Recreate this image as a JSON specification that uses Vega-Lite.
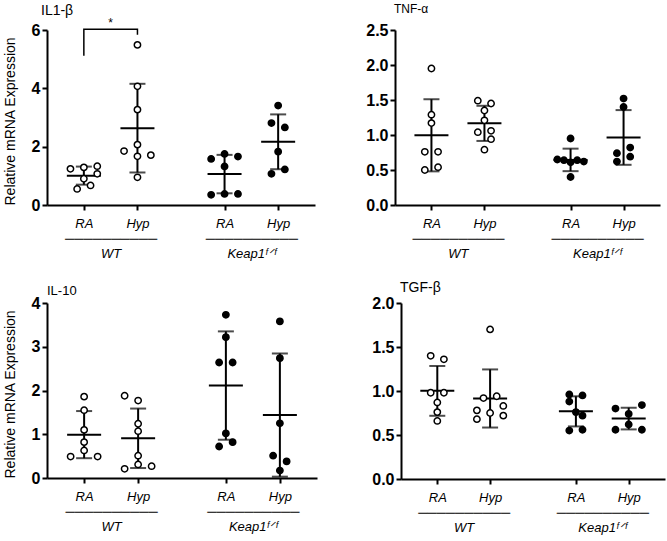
{
 "$schema": "https://vega.github.io/schema/vega-lite/v6.json",
 "padding": {"left": 3, "top": 3, "right": 2, "bottom": 2},
 "config": {
  "view": {"stroke": null},
  "font": "Liberation Sans",
  "axis": {"domainColor": "black", "domainWidth": 2, "tickColor": "black", "tickWidth": 2, "tickSize": 5, "labelColor": "black", "titleColor": "black", "grid": false, "labelFont": "Liberation Sans", "titleFont": "Liberation Sans"},
  "axisQuantitative": {"labelOverlap": false},
  "axisY": {"labelFontSize": 16, "labelFontWeight": "bold", "labelPadding": 2, "labelOverlap": false, "labelSeparation": -20, "titleFontSize": 14, "titleFontWeight": "normal", "titleAnchor": "start", "titlePadding": 14},
  "axisX": {"labelFontSize": 13, "labelFontStyle": "italic", "labelAngle": 0, "labelPadding": 7, "labelLineHeight": 15, "labelOverlap": false},
  "title": {"fontSize": 12, "fontWeight": "normal", "anchor": "start", "color": "black", "font": "Liberation Sans", "frame": "group"}
 },
 "datasets": {
  "il1": [
   {"geno":"WT","lane":"WT-RA-1","col":"WT-RA-3","v":1.24},
   {"geno":"WT","lane":"WT-RA-3","col":"WT-RA-3","v":1.29},
   {"geno":"WT","lane":"WT-RA-5","col":"WT-RA-3","v":1.33},
   {"geno":"WT","lane":"WT-RA-5","col":"WT-RA-3","v":1.07},
   {"geno":"WT","lane":"WT-RA-3","col":"WT-RA-3","v":0.90},
   {"geno":"WT","lane":"WT-RA-2","col":"WT-RA-3","v":0.55},
   {"geno":"WT","lane":"WT-RA-4","col":"WT-RA-3","v":0.67},
   {"geno":"WT","lane":"WT-Hyp-3","col":"WT-Hyp-3","v":5.49},
   {"geno":"WT","lane":"WT-Hyp-3","col":"WT-Hyp-3","v":4.07},
   {"geno":"WT","lane":"WT-Hyp-3","col":"WT-Hyp-3","v":3.27},
   {"geno":"WT","lane":"WT-Hyp-3","col":"WT-Hyp-3","v":2.07},
   {"geno":"WT","lane":"WT-Hyp-1","col":"WT-Hyp-3","v":1.85},
   {"geno":"WT","lane":"WT-Hyp-3","col":"WT-Hyp-3","v":1.67},
   {"geno":"WT","lane":"WT-Hyp-5","col":"WT-Hyp-3","v":1.71},
   {"geno":"WT","lane":"WT-Hyp-3","col":"WT-Hyp-3","v":0.95},
   {"geno":"Keap1","lane":"K-RA-1","col":"K-RA-3","v":1.58},
   {"geno":"Keap1","lane":"K-RA-3","col":"K-RA-3","v":1.75},
   {"geno":"Keap1","lane":"K-RA-5","col":"K-RA-3","v":1.66},
   {"geno":"Keap1","lane":"K-RA-3","col":"K-RA-3","v":1.32},
   {"geno":"Keap1","lane":"K-RA-1","col":"K-RA-3","v":0.35},
   {"geno":"Keap1","lane":"K-RA-3","col":"K-RA-3","v":0.38},
   {"geno":"Keap1","lane":"K-RA-5","col":"K-RA-3","v":0.38},
   {"geno":"Keap1","lane":"K-Hyp-3","col":"K-Hyp-3","v":3.41},
   {"geno":"Keap1","lane":"K-Hyp-2","col":"K-Hyp-3","v":2.81},
   {"geno":"Keap1","lane":"K-Hyp-4","col":"K-Hyp-3","v":2.66},
   {"geno":"Keap1","lane":"K-Hyp-3","col":"K-Hyp-3","v":1.83},
   {"geno":"Keap1","lane":"K-Hyp-4","col":"K-Hyp-3","v":1.22},
   {"geno":"Keap1","lane":"K-Hyp-2","col":"K-Hyp-3","v":1.07}
  ],
  "tnf": [
   {"geno":"WT","lane":"WT-RA-3","col":"WT-RA-3","v":1.95},
   {"geno":"WT","lane":"WT-RA-3","col":"WT-RA-3","v":1.29},
   {"geno":"WT","lane":"WT-RA-3","col":"WT-RA-3","v":1.17},
   {"geno":"WT","lane":"WT-RA-2","col":"WT-RA-3","v":0.76},
   {"geno":"WT","lane":"WT-RA-4","col":"WT-RA-3","v":0.76},
   {"geno":"WT","lane":"WT-RA-2","col":"WT-RA-3","v":0.50},
   {"geno":"WT","lane":"WT-RA-4","col":"WT-RA-3","v":0.54},
   {"geno":"WT","lane":"WT-Hyp-2","col":"WT-Hyp-3","v":1.49},
   {"geno":"WT","lane":"WT-Hyp-4","col":"WT-Hyp-3","v":1.45},
   {"geno":"WT","lane":"WT-Hyp-3","col":"WT-Hyp-3","v":1.35},
   {"geno":"WT","lane":"WT-Hyp-3","col":"WT-Hyp-3","v":1.21},
   {"geno":"WT","lane":"WT-Hyp-2","col":"WT-Hyp-3","v":1.04},
   {"geno":"WT","lane":"WT-Hyp-4","col":"WT-Hyp-3","v":1.06},
   {"geno":"WT","lane":"WT-Hyp-4","col":"WT-Hyp-3","v":0.94},
   {"geno":"WT","lane":"WT-Hyp-3","col":"WT-Hyp-3","v":0.79},
   {"geno":"Keap1","lane":"K-RA-3","col":"K-RA-3","v":0.95},
   {"geno":"Keap1","lane":"K-RA-1","col":"K-RA-3","v":0.65},
   {"geno":"Keap1","lane":"K-RA-2","col":"K-RA-3","v":0.64},
   {"geno":"Keap1","lane":"K-RA-3","col":"K-RA-3","v":0.61},
   {"geno":"Keap1","lane":"K-RA-4","col":"K-RA-3","v":0.64},
   {"geno":"Keap1","lane":"K-RA-5","col":"K-RA-3","v":0.62},
   {"geno":"Keap1","lane":"K-RA-3","col":"K-RA-3","v":0.40},
   {"geno":"Keap1","lane":"K-Hyp-3","col":"K-Hyp-3","v":1.52},
   {"geno":"Keap1","lane":"K-Hyp-3","col":"K-Hyp-3","v":1.40},
   {"geno":"Keap1","lane":"K-Hyp-4","col":"K-Hyp-3","v":0.82},
   {"geno":"Keap1","lane":"K-Hyp-2","col":"K-Hyp-3","v":0.74},
   {"geno":"Keap1","lane":"K-Hyp-4","col":"K-Hyp-3","v":0.69},
   {"geno":"Keap1","lane":"K-Hyp-2","col":"K-Hyp-3","v":0.62}
  ],
  "il10": [
   {"geno":"WT","lane":"WT-RA-3","col":"WT-RA-3","v":1.86},
   {"geno":"WT","lane":"WT-RA-3","col":"WT-RA-3","v":1.55},
   {"geno":"WT","lane":"WT-RA-3","col":"WT-RA-3","v":1.10},
   {"geno":"WT","lane":"WT-RA-3","col":"WT-RA-3","v":0.82},
   {"geno":"WT","lane":"WT-RA-3","col":"WT-RA-3","v":0.63},
   {"geno":"WT","lane":"WT-RA-1","col":"WT-RA-3","v":0.49},
   {"geno":"WT","lane":"WT-RA-5","col":"WT-RA-3","v":0.49},
   {"geno":"WT","lane":"WT-Hyp-1","col":"WT-Hyp-3","v":1.88},
   {"geno":"WT","lane":"WT-Hyp-3","col":"WT-Hyp-3","v":1.77},
   {"geno":"WT","lane":"WT-Hyp-3","col":"WT-Hyp-3","v":1.24},
   {"geno":"WT","lane":"WT-Hyp-3","col":"WT-Hyp-3","v":1.07},
   {"geno":"WT","lane":"WT-Hyp-3","col":"WT-Hyp-3","v":0.51},
   {"geno":"WT","lane":"WT-Hyp-3","col":"WT-Hyp-3","v":0.31},
   {"geno":"WT","lane":"WT-Hyp-1","col":"WT-Hyp-3","v":0.21},
   {"geno":"WT","lane":"WT-Hyp-5","col":"WT-Hyp-3","v":0.27},
   {"geno":"Keap1","lane":"K-RA-3","col":"K-RA-3","v":3.73},
   {"geno":"Keap1","lane":"K-RA-3","col":"K-RA-3","v":3.22},
   {"geno":"Keap1","lane":"K-RA-2","col":"K-RA-3","v":2.64},
   {"geno":"Keap1","lane":"K-RA-4","col":"K-RA-3","v":2.64},
   {"geno":"Keap1","lane":"K-RA-3","col":"K-RA-3","v":1.02},
   {"geno":"Keap1","lane":"K-RA-2","col":"K-RA-3","v":0.72},
   {"geno":"Keap1","lane":"K-RA-4","col":"K-RA-3","v":0.82},
   {"geno":"Keap1","lane":"K-Hyp-3","col":"K-Hyp-3","v":3.58},
   {"geno":"Keap1","lane":"K-Hyp-3","col":"K-Hyp-3","v":2.74},
   {"geno":"Keap1","lane":"K-Hyp-3","col":"K-Hyp-3","v":1.25},
   {"geno":"Keap1","lane":"K-Hyp-2","col":"K-Hyp-3","v":0.51},
   {"geno":"Keap1","lane":"K-Hyp-4","col":"K-Hyp-3","v":0.38},
   {"geno":"Keap1","lane":"K-Hyp-3","col":"K-Hyp-3","v":0.17}
  ],
  "tgf": [
   {"geno":"WT","lane":"WT-RA-2","col":"WT-RA-3","v":1.40},
   {"geno":"WT","lane":"WT-RA-4","col":"WT-RA-3","v":1.36},
   {"geno":"WT","lane":"WT-RA-2","col":"WT-RA-3","v":0.98},
   {"geno":"WT","lane":"WT-RA-4","col":"WT-RA-3","v":0.98},
   {"geno":"WT","lane":"WT-RA-3","col":"WT-RA-3","v":0.87},
   {"geno":"WT","lane":"WT-RA-3","col":"WT-RA-3","v":0.76},
   {"geno":"WT","lane":"WT-RA-3","col":"WT-RA-3","v":0.66},
   {"geno":"WT","lane":"WT-Hyp-3","col":"WT-Hyp-3","v":1.70},
   {"geno":"WT","lane":"WT-Hyp-2","col":"WT-Hyp-3","v":0.92},
   {"geno":"WT","lane":"WT-Hyp-4","col":"WT-Hyp-3","v":0.94},
   {"geno":"WT","lane":"WT-Hyp-1","col":"WT-Hyp-3","v":0.78},
   {"geno":"WT","lane":"WT-Hyp-1","col":"WT-Hyp-3","v":0.68},
   {"geno":"WT","lane":"WT-Hyp-3","col":"WT-Hyp-3","v":0.75},
   {"geno":"WT","lane":"WT-Hyp-5","col":"WT-Hyp-3","v":0.83},
   {"geno":"WT","lane":"WT-Hyp-5","col":"WT-Hyp-3","v":0.72},
   {"geno":"Keap1","lane":"K-RA-2","col":"K-RA-3","v":0.96},
   {"geno":"Keap1","lane":"K-RA-4","col":"K-RA-3","v":0.95},
   {"geno":"Keap1","lane":"K-RA-2","col":"K-RA-3","v":0.88},
   {"geno":"Keap1","lane":"K-RA-3","col":"K-RA-3","v":0.76},
   {"geno":"Keap1","lane":"K-RA-4","col":"K-RA-3","v":0.72},
   {"geno":"Keap1","lane":"K-RA-2","col":"K-RA-3","v":0.55},
   {"geno":"Keap1","lane":"K-RA-4","col":"K-RA-3","v":0.56},
   {"geno":"Keap1","lane":"K-Hyp-1","col":"K-Hyp-3","v":0.80},
   {"geno":"Keap1","lane":"K-Hyp-5","col":"K-Hyp-3","v":0.84},
   {"geno":"Keap1","lane":"K-Hyp-3","col":"K-Hyp-3","v":0.74},
   {"geno":"Keap1","lane":"K-Hyp-3","col":"K-Hyp-3","v":0.62},
   {"geno":"Keap1","lane":"K-Hyp-1","col":"K-Hyp-3","v":0.56},
   {"geno":"Keap1","lane":"K-Hyp-5","col":"K-Hyp-3","v":0.56}
  ],
  "bracket": [
   {"lane":"WT-RA-3","v":5.12,"o":1},
   {"lane":"WT-RA-3","v":6.03,"o":2},
   {"lane":"WT-Hyp-3","v":6.03,"o":3},
   {"lane":"WT-Hyp-3","v":5.84,"o":4}
  ],
  "star": [
   {"lane":"WT","v":6.25,"t":"*"}
  ]
 },
 "spacing": 21,
 "vconcat": [
  {
   "spacing": 50,
   "hconcat": [
    {
     "width": 268, "height": 175,
     "title": {"text": "IL1-β", "dx": -6, "offset": -1, "fontSize": 14},
     "data": {"name": "il1"},
     "layer": [
      {"mark": {"type": "errorbar", "extent": "stdev", "thickness": 2, "color": "black", "ticks": {"size": 16}},
       "encoding": {
        "x": {"field": "col", "type": "nominal", "scale": {"type": "point", "domain": ["e1","e2","e3","WT-RA-1","WT-RA-2","WT-RA-3","WT-RA-4","WT-RA-5","WT-a","WT","WT-b","WT-Hyp-1","WT-Hyp-2","WT-Hyp-3","WT-Hyp-4","WT-Hyp-5","g1","g2","g3","g4","g5","g6","g7","g8","K-RA-1","K-RA-2","K-RA-3","K-RA-4","K-RA-5","K-a","K","K-b","K-Hyp-1","K-Hyp-2","K-Hyp-3","K-Hyp-4","K-Hyp-5","e4","e5","e6"]},
              "axis": {"title": null, "values": ["WT-RA-3","WT","WT-Hyp-3","K-RA-3","K","K-Hyp-3"], "labelExpr": "datum.value == 'WT' ? ['', '──────────', 'WT'] : datum.value == 'K' ? ['', '──────────', 'Keap1ᶠᐟᶠ'] : (indexof(datum.value, 'RA') >= 0 ? 'RA' : 'Hyp')", "tickOpacity": {"condition": {"test": "datum.value == 'WT' || datum.value == 'K'", "value": 0}, "value": 1}}},
        "y": {"field": "v", "type": "quantitative", "scale": {"domain": [0, 6], "nice": false}, "axis": {"values": [0, 2, 4, 6], "title": "Relative mRNA Expression", "labelOverlap": false}}
       }},
      {"mark": {"type": "tick", "thickness": 2, "size": 34, "color": "black", "opacity": 1},
       "encoding": {
        "x": {"field": "col", "type": "nominal", "scale": {"type": "point", "domain": ["e1","e2","e3","WT-RA-1","WT-RA-2","WT-RA-3","WT-RA-4","WT-RA-5","WT-a","WT","WT-b","WT-Hyp-1","WT-Hyp-2","WT-Hyp-3","WT-Hyp-4","WT-Hyp-5","g1","g2","g3","g4","g5","g6","g7","g8","K-RA-1","K-RA-2","K-RA-3","K-RA-4","K-RA-5","K-a","K","K-b","K-Hyp-1","K-Hyp-2","K-Hyp-3","K-Hyp-4","K-Hyp-5","e4","e5","e6"]},
              "axis": {"title": null, "values": ["WT-RA-3","WT","WT-Hyp-3","K-RA-3","K","K-Hyp-3"], "labelExpr": "datum.value == 'WT' ? ['', '──────────', 'WT'] : datum.value == 'K' ? ['', '──────────', 'Keap1ᶠᐟᶠ'] : (indexof(datum.value, 'RA') >= 0 ? 'RA' : 'Hyp')", "tickOpacity": {"condition": {"test": "datum.value == 'WT' || datum.value == 'K'", "value": 0}, "value": 1}}},
        "y": {"aggregate": "mean", "field": "v", "type": "quantitative", "scale": {"domain": [0, 6], "nice": false}, "axis": {"values": [0, 2, 4, 6], "title": "Relative mRNA Expression", "labelOverlap": false}}
       }},
      {"mark": {"type": "point", "shape": "circle", "filled": true, "size": 40, "stroke": "black", "strokeWidth": 1.5, "opacity": 1},
       "encoding": {
        "x": {"field": "lane", "type": "nominal", "scale": {"type": "point", "domain": ["e1","e2","e3","WT-RA-1","WT-RA-2","WT-RA-3","WT-RA-4","WT-RA-5","WT-a","WT","WT-b","WT-Hyp-1","WT-Hyp-2","WT-Hyp-3","WT-Hyp-4","WT-Hyp-5","g1","g2","g3","g4","g5","g6","g7","g8","K-RA-1","K-RA-2","K-RA-3","K-RA-4","K-RA-5","K-a","K","K-b","K-Hyp-1","K-Hyp-2","K-Hyp-3","K-Hyp-4","K-Hyp-5","e4","e5","e6"]},
              "axis": {"title": null, "values": ["WT-RA-3","WT","WT-Hyp-3","K-RA-3","K","K-Hyp-3"], "labelExpr": "datum.value == 'WT' ? ['', '──────────', 'WT'] : datum.value == 'K' ? ['', '──────────', 'Keap1ᶠᐟᶠ'] : (indexof(datum.value, 'RA') >= 0 ? 'RA' : 'Hyp')", "tickOpacity": {"condition": {"test": "datum.value == 'WT' || datum.value == 'K'", "value": 0}, "value": 1}}},
        "y": {"field": "v", "type": "quantitative", "scale": {"domain": [0, 6], "nice": false}, "axis": {"values": [0, 2, 4, 6], "title": "Relative mRNA Expression", "labelOverlap": false}},
        "fill": {"field": "geno", "type": "nominal", "scale": {"domain": ["WT", "Keap1"], "range": ["white", "black"]}, "legend": null}
       }},
      {"data": {"name": "bracket"},
       "mark": {"type": "line", "color": "black", "strokeWidth": 1.5},
       "encoding": {
        "x": {"field": "lane", "type": "nominal", "scale": {"type": "point", "domain": ["e1","e2","e3","WT-RA-1","WT-RA-2","WT-RA-3","WT-RA-4","WT-RA-5","WT-a","WT","WT-b","WT-Hyp-1","WT-Hyp-2","WT-Hyp-3","WT-Hyp-4","WT-Hyp-5","g1","g2","g3","g4","g5","g6","g7","g8","K-RA-1","K-RA-2","K-RA-3","K-RA-4","K-RA-5","K-a","K","K-b","K-Hyp-1","K-Hyp-2","K-Hyp-3","K-Hyp-4","K-Hyp-5","e4","e5","e6"]},
              "axis": {"title": null, "values": ["WT-RA-3","WT","WT-Hyp-3","K-RA-3","K","K-Hyp-3"], "labelExpr": "datum.value == 'WT' ? ['', '──────────', 'WT'] : datum.value == 'K' ? ['', '──────────', 'Keap1ᶠᐟᶠ'] : (indexof(datum.value, 'RA') >= 0 ? 'RA' : 'Hyp')", "tickOpacity": {"condition": {"test": "datum.value == 'WT' || datum.value == 'K'", "value": 0}, "value": 1}}},
        "y": {"field": "v", "type": "quantitative", "scale": {"domain": [0, 6], "nice": false}, "axis": {"values": [0, 2, 4, 6], "title": "Relative mRNA Expression", "labelOverlap": false}},
        "order": {"field": "o", "type": "quantitative"}
       }},
      {"data": {"name": "star"},
       "mark": {"type": "text", "fontSize": 12, "fill": "black", "color": "black", "baseline": "middle", "font": "Liberation Sans"},
       "encoding": {
        "x": {"field": "lane", "type": "nominal", "scale": {"type": "point", "domain": ["e1","e2","e3","WT-RA-1","WT-RA-2","WT-RA-3","WT-RA-4","WT-RA-5","WT-a","WT","WT-b","WT-Hyp-1","WT-Hyp-2","WT-Hyp-3","WT-Hyp-4","WT-Hyp-5","g1","g2","g3","g4","g5","g6","g7","g8","K-RA-1","K-RA-2","K-RA-3","K-RA-4","K-RA-5","K-a","K","K-b","K-Hyp-1","K-Hyp-2","K-Hyp-3","K-Hyp-4","K-Hyp-5","e4","e5","e6"]},
              "axis": {"title": null, "values": ["WT-RA-3","WT","WT-Hyp-3","K-RA-3","K","K-Hyp-3"], "labelExpr": "datum.value == 'WT' ? ['', '──────────', 'WT'] : datum.value == 'K' ? ['', '──────────', 'Keap1ᶠᐟᶠ'] : (indexof(datum.value, 'RA') >= 0 ? 'RA' : 'Hyp')", "tickOpacity": {"condition": {"test": "datum.value == 'WT' || datum.value == 'K'", "value": 0}, "value": 1}}},
        "y": {"field": "v", "type": "quantitative", "scale": {"domain": [0, 6], "nice": false}, "axis": {"values": [0, 2, 4, 6], "title": "Relative mRNA Expression", "labelOverlap": false}},
        "text": {"field": "t"}
       }}
     ]
    },
    {
     "width": 265, "height": 175,
     "title": {"text": "TNF-α", "dx": -1, "offset": 6, "fontSize": 12},
     "data": {"name": "tnf"},
     "layer": [
      {"mark": {"type": "errorbar", "extent": "stdev", "thickness": 2, "color": "black", "ticks": {"size": 16}},
       "encoding": {
        "x": {"field": "col", "type": "nominal", "scale": {"type": "point", "domain": ["e1","e2","e3","WT-RA-1","WT-RA-2","WT-RA-3","WT-RA-4","WT-RA-5","WT-a","WT","WT-b","WT-Hyp-1","WT-Hyp-2","WT-Hyp-3","WT-Hyp-4","WT-Hyp-5","g1","g2","g3","g4","g5","g6","g7","g8","K-RA-1","K-RA-2","K-RA-3","K-RA-4","K-RA-5","K-a","K","K-b","K-Hyp-1","K-Hyp-2","K-Hyp-3","K-Hyp-4","K-Hyp-5","e4","e5","e6"]},
              "axis": {"title": null, "values": ["WT-RA-3","WT","WT-Hyp-3","K-RA-3","K","K-Hyp-3"], "labelExpr": "datum.value == 'WT' ? ['', '──────────', 'WT'] : datum.value == 'K' ? ['', '──────────', 'Keap1ᶠᐟᶠ'] : (indexof(datum.value, 'RA') >= 0 ? 'RA' : 'Hyp')", "tickOpacity": {"condition": {"test": "datum.value == 'WT' || datum.value == 'K'", "value": 0}, "value": 1}}},
        "y": {"field": "v", "type": "quantitative", "scale": {"domain": [0, 2.5], "nice": false}, "axis": {"values": [0, 0.5, 1, 1.5, 2, 2.5], "format": ".1f", "title": null, "labelOverlap": false}}
       }},
      {"mark": {"type": "tick", "thickness": 2, "size": 34, "color": "black", "opacity": 1},
       "encoding": {
        "x": {"field": "col", "type": "nominal", "scale": {"type": "point", "domain": ["e1","e2","e3","WT-RA-1","WT-RA-2","WT-RA-3","WT-RA-4","WT-RA-5","WT-a","WT","WT-b","WT-Hyp-1","WT-Hyp-2","WT-Hyp-3","WT-Hyp-4","WT-Hyp-5","g1","g2","g3","g4","g5","g6","g7","g8","K-RA-1","K-RA-2","K-RA-3","K-RA-4","K-RA-5","K-a","K","K-b","K-Hyp-1","K-Hyp-2","K-Hyp-3","K-Hyp-4","K-Hyp-5","e4","e5","e6"]},
              "axis": {"title": null, "values": ["WT-RA-3","WT","WT-Hyp-3","K-RA-3","K","K-Hyp-3"], "labelExpr": "datum.value == 'WT' ? ['', '──────────', 'WT'] : datum.value == 'K' ? ['', '──────────', 'Keap1ᶠᐟᶠ'] : (indexof(datum.value, 'RA') >= 0 ? 'RA' : 'Hyp')", "tickOpacity": {"condition": {"test": "datum.value == 'WT' || datum.value == 'K'", "value": 0}, "value": 1}}},
        "y": {"aggregate": "mean", "field": "v", "type": "quantitative", "scale": {"domain": [0, 2.5], "nice": false}, "axis": {"values": [0, 0.5, 1, 1.5, 2, 2.5], "format": ".1f", "title": null, "labelOverlap": false}}
       }},
      {"mark": {"type": "point", "shape": "circle", "filled": true, "size": 40, "stroke": "black", "strokeWidth": 1.5, "opacity": 1},
       "encoding": {
        "x": {"field": "lane", "type": "nominal", "scale": {"type": "point", "domain": ["e1","e2","e3","WT-RA-1","WT-RA-2","WT-RA-3","WT-RA-4","WT-RA-5","WT-a","WT","WT-b","WT-Hyp-1","WT-Hyp-2","WT-Hyp-3","WT-Hyp-4","WT-Hyp-5","g1","g2","g3","g4","g5","g6","g7","g8","K-RA-1","K-RA-2","K-RA-3","K-RA-4","K-RA-5","K-a","K","K-b","K-Hyp-1","K-Hyp-2","K-Hyp-3","K-Hyp-4","K-Hyp-5","e4","e5","e6"]},
              "axis": {"title": null, "values": ["WT-RA-3","WT","WT-Hyp-3","K-RA-3","K","K-Hyp-3"], "labelExpr": "datum.value == 'WT' ? ['', '──────────', 'WT'] : datum.value == 'K' ? ['', '──────────', 'Keap1ᶠᐟᶠ'] : (indexof(datum.value, 'RA') >= 0 ? 'RA' : 'Hyp')", "tickOpacity": {"condition": {"test": "datum.value == 'WT' || datum.value == 'K'", "value": 0}, "value": 1}}},
        "y": {"field": "v", "type": "quantitative", "scale": {"domain": [0, 2.5], "nice": false}, "axis": {"values": [0, 0.5, 1, 1.5, 2, 2.5], "format": ".1f", "title": null, "labelOverlap": false}},
        "fill": {"field": "geno", "type": "nominal", "scale": {"domain": ["WT", "Keap1"], "range": ["white", "black"]}, "legend": null}
       }}
     ]
    }
   ]
  },
  {
   "spacing": 54,
   "hconcat": [
    {
     "width": 270, "height": 175,
     "title": {"text": "IL-10", "dx": 0, "offset": -3, "fontSize": 13},
     "data": {"name": "il10"},
     "layer": [
      {"mark": {"type": "errorbar", "extent": "stdev", "thickness": 2, "color": "black", "ticks": {"size": 16}},
       "encoding": {
        "x": {"field": "col", "type": "nominal", "scale": {"type": "point", "domain": ["e1","e2","e3","WT-RA-1","WT-RA-2","WT-RA-3","WT-RA-4","WT-RA-5","WT-a","WT","WT-b","WT-Hyp-1","WT-Hyp-2","WT-Hyp-3","WT-Hyp-4","WT-Hyp-5","g1","g2","g3","g4","g5","g6","g7","g8","K-RA-1","K-RA-2","K-RA-3","K-RA-4","K-RA-5","K-a","K","K-b","K-Hyp-1","K-Hyp-2","K-Hyp-3","K-Hyp-4","K-Hyp-5","e4","e5","e6"]},
              "axis": {"title": null, "values": ["WT-RA-3","WT","WT-Hyp-3","K-RA-3","K","K-Hyp-3"], "labelExpr": "datum.value == 'WT' ? ['', '──────────', 'WT'] : datum.value == 'K' ? ['', '──────────', 'Keap1ᶠᐟᶠ'] : (indexof(datum.value, 'RA') >= 0 ? 'RA' : 'Hyp')", "tickOpacity": {"condition": {"test": "datum.value == 'WT' || datum.value == 'K'", "value": 0}, "value": 1}}},
        "y": {"field": "v", "type": "quantitative", "scale": {"domain": [0, 4], "nice": false}, "axis": {"values": [0, 1, 2, 3, 4], "title": "Relative mRNA Expression", "labelOverlap": false}}
       }},
      {"mark": {"type": "tick", "thickness": 2, "size": 34, "color": "black", "opacity": 1},
       "encoding": {
        "x": {"field": "col", "type": "nominal", "scale": {"type": "point", "domain": ["e1","e2","e3","WT-RA-1","WT-RA-2","WT-RA-3","WT-RA-4","WT-RA-5","WT-a","WT","WT-b","WT-Hyp-1","WT-Hyp-2","WT-Hyp-3","WT-Hyp-4","WT-Hyp-5","g1","g2","g3","g4","g5","g6","g7","g8","K-RA-1","K-RA-2","K-RA-3","K-RA-4","K-RA-5","K-a","K","K-b","K-Hyp-1","K-Hyp-2","K-Hyp-3","K-Hyp-4","K-Hyp-5","e4","e5","e6"]},
              "axis": {"title": null, "values": ["WT-RA-3","WT","WT-Hyp-3","K-RA-3","K","K-Hyp-3"], "labelExpr": "datum.value == 'WT' ? ['', '──────────', 'WT'] : datum.value == 'K' ? ['', '──────────', 'Keap1ᶠᐟᶠ'] : (indexof(datum.value, 'RA') >= 0 ? 'RA' : 'Hyp')", "tickOpacity": {"condition": {"test": "datum.value == 'WT' || datum.value == 'K'", "value": 0}, "value": 1}}},
        "y": {"aggregate": "mean", "field": "v", "type": "quantitative", "scale": {"domain": [0, 4], "nice": false}, "axis": {"values": [0, 1, 2, 3, 4], "title": "Relative mRNA Expression", "labelOverlap": false}}
       }},
      {"mark": {"type": "point", "shape": "circle", "filled": true, "size": 40, "stroke": "black", "strokeWidth": 1.5, "opacity": 1},
       "encoding": {
        "x": {"field": "lane", "type": "nominal", "scale": {"type": "point", "domain": ["e1","e2","e3","WT-RA-1","WT-RA-2","WT-RA-3","WT-RA-4","WT-RA-5","WT-a","WT","WT-b","WT-Hyp-1","WT-Hyp-2","WT-Hyp-3","WT-Hyp-4","WT-Hyp-5","g1","g2","g3","g4","g5","g6","g7","g8","K-RA-1","K-RA-2","K-RA-3","K-RA-4","K-RA-5","K-a","K","K-b","K-Hyp-1","K-Hyp-2","K-Hyp-3","K-Hyp-4","K-Hyp-5","e4","e5","e6"]},
              "axis": {"title": null, "values": ["WT-RA-3","WT","WT-Hyp-3","K-RA-3","K","K-Hyp-3"], "labelExpr": "datum.value == 'WT' ? ['', '──────────', 'WT'] : datum.value == 'K' ? ['', '──────────', 'Keap1ᶠᐟᶠ'] : (indexof(datum.value, 'RA') >= 0 ? 'RA' : 'Hyp')", "tickOpacity": {"condition": {"test": "datum.value == 'WT' || datum.value == 'K'", "value": 0}, "value": 1}}},
        "y": {"field": "v", "type": "quantitative", "scale": {"domain": [0, 4], "nice": false}, "axis": {"values": [0, 1, 2, 3, 4], "title": "Relative mRNA Expression", "labelOverlap": false}},
        "fill": {"field": "geno", "type": "nominal", "scale": {"domain": ["WT", "Keap1"], "range": ["white", "black"]}, "legend": null}
       }}
     ]
    },
    {
     "width": 264, "height": 176,
     "title": {"text": "TGF-β", "dx": -1, "offset": 0, "fontSize": 14},
     "data": {"name": "tgf"},
     "layer": [
      {"mark": {"type": "errorbar", "extent": "stdev", "thickness": 2, "color": "black", "ticks": {"size": 16}},
       "encoding": {
        "x": {"field": "col", "type": "nominal", "scale": {"type": "point", "domain": ["e1","e2","e3","WT-RA-1","WT-RA-2","WT-RA-3","WT-RA-4","WT-RA-5","WT-a","WT","WT-b","WT-Hyp-1","WT-Hyp-2","WT-Hyp-3","WT-Hyp-4","WT-Hyp-5","g1","g2","g3","g4","g5","g6","g7","g8","K-RA-1","K-RA-2","K-RA-3","K-RA-4","K-RA-5","K-a","K","K-b","K-Hyp-1","K-Hyp-2","K-Hyp-3","K-Hyp-4","K-Hyp-5","e4","e5","e6"]},
              "axis": {"title": null, "values": ["WT-RA-3","WT","WT-Hyp-3","K-RA-3","K","K-Hyp-3"], "labelExpr": "datum.value == 'WT' ? ['', '──────────', 'WT'] : datum.value == 'K' ? ['', '──────────', 'Keap1ᶠᐟᶠ'] : (indexof(datum.value, 'RA') >= 0 ? 'RA' : 'Hyp')", "tickOpacity": {"condition": {"test": "datum.value == 'WT' || datum.value == 'K'", "value": 0}, "value": 1}}},
        "y": {"field": "v", "type": "quantitative", "scale": {"domain": [0, 2], "nice": false}, "axis": {"values": [0, 0.5, 1, 1.5, 2], "format": ".1f", "title": null, "labelOverlap": false}}
       }},
      {"mark": {"type": "tick", "thickness": 2, "size": 34, "color": "black", "opacity": 1},
       "encoding": {
        "x": {"field": "col", "type": "nominal", "scale": {"type": "point", "domain": ["e1","e2","e3","WT-RA-1","WT-RA-2","WT-RA-3","WT-RA-4","WT-RA-5","WT-a","WT","WT-b","WT-Hyp-1","WT-Hyp-2","WT-Hyp-3","WT-Hyp-4","WT-Hyp-5","g1","g2","g3","g4","g5","g6","g7","g8","K-RA-1","K-RA-2","K-RA-3","K-RA-4","K-RA-5","K-a","K","K-b","K-Hyp-1","K-Hyp-2","K-Hyp-3","K-Hyp-4","K-Hyp-5","e4","e5","e6"]},
              "axis": {"title": null, "values": ["WT-RA-3","WT","WT-Hyp-3","K-RA-3","K","K-Hyp-3"], "labelExpr": "datum.value == 'WT' ? ['', '──────────', 'WT'] : datum.value == 'K' ? ['', '──────────', 'Keap1ᶠᐟᶠ'] : (indexof(datum.value, 'RA') >= 0 ? 'RA' : 'Hyp')", "tickOpacity": {"condition": {"test": "datum.value == 'WT' || datum.value == 'K'", "value": 0}, "value": 1}}},
        "y": {"aggregate": "mean", "field": "v", "type": "quantitative", "scale": {"domain": [0, 2], "nice": false}, "axis": {"values": [0, 0.5, 1, 1.5, 2], "format": ".1f", "title": null, "labelOverlap": false}}
       }},
      {"mark": {"type": "point", "shape": "circle", "filled": true, "size": 40, "stroke": "black", "strokeWidth": 1.5, "opacity": 1},
       "encoding": {
        "x": {"field": "lane", "type": "nominal", "scale": {"type": "point", "domain": ["e1","e2","e3","WT-RA-1","WT-RA-2","WT-RA-3","WT-RA-4","WT-RA-5","WT-a","WT","WT-b","WT-Hyp-1","WT-Hyp-2","WT-Hyp-3","WT-Hyp-4","WT-Hyp-5","g1","g2","g3","g4","g5","g6","g7","g8","K-RA-1","K-RA-2","K-RA-3","K-RA-4","K-RA-5","K-a","K","K-b","K-Hyp-1","K-Hyp-2","K-Hyp-3","K-Hyp-4","K-Hyp-5","e4","e5","e6"]},
              "axis": {"title": null, "values": ["WT-RA-3","WT","WT-Hyp-3","K-RA-3","K","K-Hyp-3"], "labelExpr": "datum.value == 'WT' ? ['', '──────────', 'WT'] : datum.value == 'K' ? ['', '──────────', 'Keap1ᶠᐟᶠ'] : (indexof(datum.value, 'RA') >= 0 ? 'RA' : 'Hyp')", "tickOpacity": {"condition": {"test": "datum.value == 'WT' || datum.value == 'K'", "value": 0}, "value": 1}}},
        "y": {"field": "v", "type": "quantitative", "scale": {"domain": [0, 2], "nice": false}, "axis": {"values": [0, 0.5, 1, 1.5, 2], "format": ".1f", "title": null, "labelOverlap": false}},
        "fill": {"field": "geno", "type": "nominal", "scale": {"domain": ["WT", "Keap1"], "range": ["white", "black"]}, "legend": null}
       }}
     ]
    }
   ]
  }
 ]
}
